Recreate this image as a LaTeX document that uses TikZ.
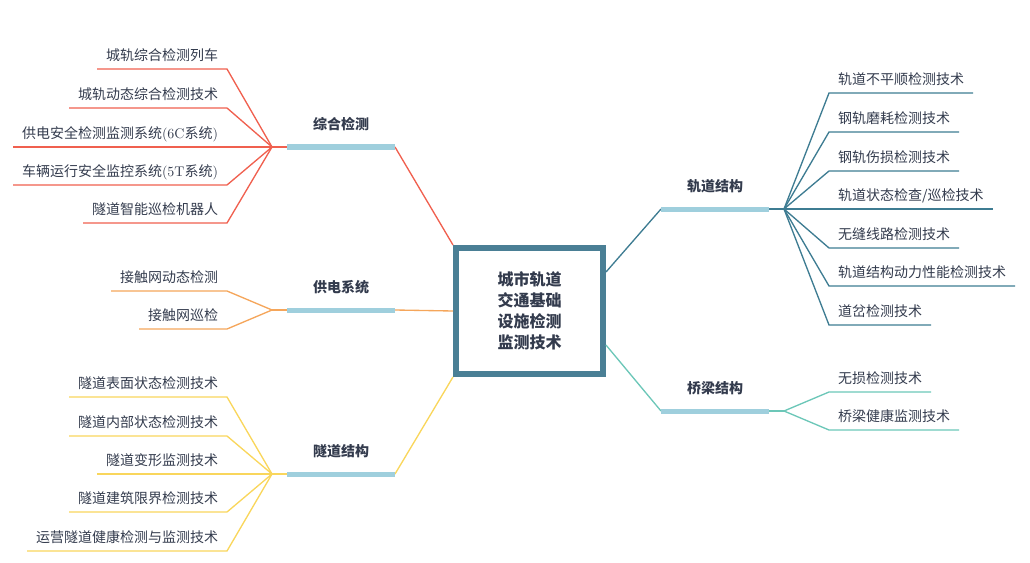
\documentclass[tikz,border=0pt]{standalone}
\usepackage{fontspec}
\usepackage{tikz}
\newfontfamily\cjk{Noto Sans CJK SC}
\definecolor{map_red}{HTML}{F0604F}
\definecolor{map_orange}{HTML}{F5A65B}
\definecolor{map_yellow}{HTML}{F9D65C}
\definecolor{map_teal}{HTML}{3E7C92}
\definecolor{map_mint}{HTML}{6CC7B8}
\definecolor{map_bar}{HTML}{9FCFDD}
\definecolor{map_box}{HTML}{4A7F95}
\definecolor{map_text}{HTML}{333B4D}
\tikzset{
  hub/.style={draw=map_box, line width=4.5pt, minimum width=110.25pt, minimum height=94.5pt,
    align=center, text=map_text, font=\cjk\bfseries\fontsize{12}{15.75}\selectfont},
  branch/.style={anchor=south, minimum width=81pt, inner xsep=0pt, inner ysep=13.25pt,
    text height=8pt, text depth=0pt, outer sep=0pt, text=map_text, font=\cjk\bfseries\fontsize{10.5}{12}\selectfont},
  leaf/.style={inner xsep=6.75pt, inner ysep=6.5pt, text height=8pt, text depth=0pt,
    outer sep=0pt, text=map_text, font=\cjk\fontsize{10.5}{12}\selectfont},
  leafl/.style={leaf, anchor=south east},
  leafr/.style={leaf, anchor=south west},
  bar/.style={map_bar, line width=3.75pt},
  twig/.style={line width=1pt}
}

\begin{document}
\begin{tikzpicture}[x=0.75pt, y=-0.75pt]
  \useasboundingbox (0,0) rectangle (1030,563);

  % Draw the centre box
  \node[hub] (hub) at (529.5,311) {城市轨道\\交通基础\\设施检测\\监测技术};

  % Draw the branches
  \node[branch] (zh) at (341,147) {综合检测};
  \node[branch] (gd) at (341,310) {供电系统};
  \node[branch] (sd) at (341,474) {隧道结构};
  \node[branch] (gj) at (715,209) {轨道结构};
  \node[branch] (ql) at (715,411) {桥梁结构};
  \coordinate (zhj) at (272,147);
  \coordinate (gdj) at (272,310);
  \coordinate (sdj) at (272,474);
  \coordinate (gjj) at (784,209);
  \coordinate (qlj) at (784,411);

  % Draw the leaves of 综合检测
  \node[leafl] (zh1) at (227,69) {城轨综合检测列车};
  \node[leafl] (zh2) at (227,108) {城轨动态综合检测技术};
  \node[leafl] (zh3) at (227,147) {供电安全检测监测系统{\rmfamily(6C}系统{\rmfamily)}};
  \node[leafl] (zh4) at (227,185) {车辆运行安全监控系统{\rmfamily(5T}系统{\rmfamily)}};
  \node[leafl] (zh5) at (227,223) {隧道智能巡检机器人};

  % Draw the leaves of 供电系统
  \node[leafl] (gd1) at (227,291) {接触网动态检测};
  \node[leafl] (gd2) at (227,329) {接触网巡检};

  % Draw the leaves of 隧道结构
  \node[leafl] (sd1) at (227,397) {隧道表面状态检测技术};
  \node[leafl] (sd2) at (227,436) {隧道内部状态检测技术};
  \node[leafl] (sd3) at (227,474) {隧道变形监测技术};
  \node[leafl] (sd4) at (227,512) {隧道建筑限界检测技术};
  \node[leafl] (sd5) at (227,551) {运营隧道健康检测与监测技术};

  % Draw the leaves of 轨道结构
  \node[leafr] (gj1) at (829,93) {轨道不平顺检测技术};
  \node[leafr] (gj2) at (829,132) {钢轨磨耗检测技术};
  \node[leafr] (gj3) at (829,171) {钢轨伤损检测技术};
  \node[leafr] (gj4) at (829,209) {轨道状态检查/巡检技术};
  \node[leafr] (gj5) at (829,248) {无缝线路检测技术};
  \node[leafr] (gj6) at (829,286) {轨道结构动力性能检测技术};
  \node[leafr] (gj7) at (829,325) {道岔检测技术};

  % Draw the leaves of 桥梁结构
  \node[leafr] (ql1) at (829,392) {无损检测技术};
  \node[leafr] (ql2) at (829,430) {桥梁健康监测技术};

  % Connect the branches to the centre
  \draw[twig, map_red] (hub.north west) -- (zh.south east);
  \draw[twig, map_orange] (hub.west) -- (gd.south east);
  \draw[twig, map_yellow] (hub.south west) -- (sd.south east);
  \draw[twig, map_teal] (hub.27) -- (gj.south west);
  \draw[twig, map_mint] (hub.-24) -- (ql.south west);

  % Connect the leaves
  \draw[twig, map_red] (zhj) -- (zh.south west);
  \foreach \n in {zh1,zh2,zh3,zh4,zh5}
    \draw[twig, map_red] (zhj) -- (\n.south east) -- (\n.south west);
  \draw[twig, map_orange] (gdj) -- (gd.south west);
  \foreach \n in {gd1,gd2}
    \draw[twig, map_orange] (gdj) -- (\n.south east) -- (\n.south west);
  \draw[twig, map_yellow] (sdj) -- (sd.south west);
  \foreach \n in {sd1,sd2,sd3,sd4,sd5}
    \draw[twig, map_yellow] (sdj) -- (\n.south east) -- (\n.south west);
  \draw[twig, map_teal] (gjj) -- (gj.south east);
  \foreach \n in {gj1,gj2,gj3,gj4,gj5,gj6,gj7}
    \draw[twig, map_teal] (gjj) -- (\n.south west) -- (\n.south east);
  \draw[twig, map_mint] (qlj) -- (ql.south east);
  \foreach \n in {ql1,ql2}
    \draw[twig, map_mint] (qlj) -- (\n.south west) -- (\n.south east);

  % Draw the bars
  \foreach \b in {zh,gd,sd,gj,ql}
    \draw[bar] (\b.south west) -- (\b.south east);

\end{tikzpicture}
\end{document}
